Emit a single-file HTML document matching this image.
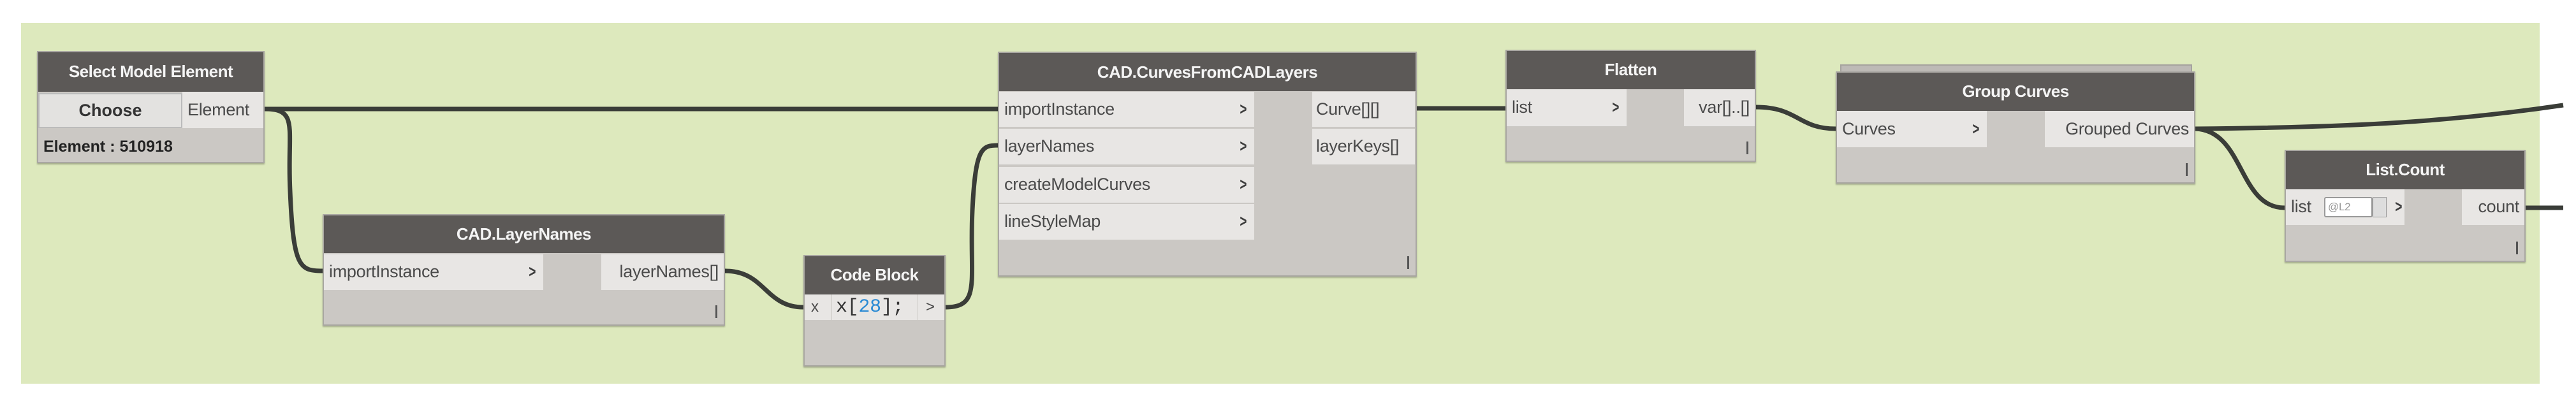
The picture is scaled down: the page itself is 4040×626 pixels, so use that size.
<!DOCTYPE html>
<html><head><meta charset="utf-8"><style>
*{margin:0;padding:0;box-sizing:border-box}
body{width:4040px;height:626px;background:#fff;position:relative;overflow:hidden;font-family:"Liberation Sans",sans-serif}
.bg{position:absolute;left:33px;top:36px;width:3950px;height:566px;background:#dde9bd}
.n{position:absolute;background:#cbc8c4;border:2px solid #a9a7a2;box-shadow:0 2px 2px rgba(0,0,0,.25)}
.h{position:absolute;left:0;right:0;top:0;background:#5c5957;color:#f4f4f4;font-weight:bold;font-size:26px;text-align:center;letter-spacing:-0.5px}
.p{position:absolute;background:#e8e6e4;color:#4a4a4a;font-size:27px;padding-left:8px;white-space:nowrap;letter-spacing:-0.3px}
.p.r{text-align:right;padding-left:0;padding-right:8px}
.ch{position:absolute;right:10px;font-weight:bold;color:#3d3d3d;transform:scaleX(.7)}
.bar{position:absolute;right:10px;bottom:10px;width:3px;height:20px;background:#555}
svg{position:absolute;left:0;top:0}
</style></head><body>
<div class="bg"></div>
<svg width="4040" height="626">
<g fill="none" stroke="#3a3d38" stroke-width="7">
<path d="M415 171 L1566 171"/>
<path d="M415 171 C470 171,450 200,455 300 C460 420,470 425,506 425"/>
<path d="M1137 425 C1200 425,1200 482,1260 482"/>
<path d="M1483 482 C1540 482,1520 440,1525 330 C1530 230,1540 228,1566 228"/>
<path d="M2222 170 L2361 170"/>
<path d="M2754 168 C2820 168,2820 202,2879 202"/>
<path d="M3443 202 C3700 200,3850 190,4020 165"/>
<path d="M3443 202 C3520 205,3510 326,3583 326"/>
<path d="M3961 326 L4020 326"/>
</g></svg>

<!-- Select Model Element -->
<div class="n" style="left:58px;top:80px;width:357px;height:176px">
<div class="h" style="height:62px;line-height:60px">Select Model Element</div>
<div style="position:absolute;left:0;top:64px;width:226px;height:55px;background:#e3e2e0;border:2px solid #bbb;font-size:27px;text-align:center;line-height:50px;color:#333;font-weight:bold">Choose</div>
<div class="p" style="left:226px;top:62px;width:127px;height:57px;line-height:56px">Element</div>
<div style="position:absolute;left:8px;top:128px;font-size:25px;color:#222;font-weight:bold;line-height:40px">Element : 510918</div>
</div>

<!-- CAD.LayerNames -->
<div class="n" style="left:506px;top:336px;width:631px;height:175px">
<div class="h" style="height:59px;line-height:58px">CAD.LayerNames</div>
<div class="p" style="left:0;top:61px;width:344px;height:56px;line-height:55px">importInstance<span class="ch">&gt;</span></div>
<div class="p r" style="left:435px;top:61px;width:192px;height:56px;line-height:55px">layerNames[]</div>
<div class="bar"></div>
</div>

<!-- Code Block -->
<div class="n" style="left:1260px;top:400px;width:223px;height:175px">
<div class="h" style="height:60px;line-height:58px">Code Block</div>
<div class="p" style="left:0;top:60px;width:42px;height:40px;line-height:40px;font-size:24px;padding-left:10px">x</div>
<div class="p" style="left:43px;top:60px;width:134px;height:40px;line-height:40px;font-family:'Liberation Mono',monospace;font-size:30px;color:#333;padding-left:6px">x[<span style="color:#2a8ad4">28</span>];</div>
<div class="p" style="left:178px;top:60px;width:41px;height:40px;line-height:40px;font-size:24px;padding-left:12px">&gt;</div>
</div>

<!-- CAD.CurvesFromCADLayers -->
<div class="n" style="left:1565px;top:81px;width:657px;height:353px">
<div class="h" style="height:60px;line-height:60px">CAD.CurvesFromCADLayers</div>
<div class="p" style="left:0;top:61px;width:400px;height:55px;line-height:54px">importInstance<span class="ch">&gt;</span></div>
<div class="p" style="left:0;top:119px;width:400px;height:56px;line-height:55px">layerNames<span class="ch">&gt;</span></div>
<div class="p" style="left:0;top:179px;width:400px;height:56px;line-height:55px">createModelCurves<span class="ch">&gt;</span></div>
<div class="p" style="left:0;top:237px;width:400px;height:56px;line-height:55px">lineStyleMap<span class="ch">&gt;</span></div>
<div class="p" style="left:491px;top:61px;width:161px;height:55px;line-height:54px;padding-left:6px">Curve[][]</div>
<div class="p" style="left:491px;top:119px;width:161px;height:56px;line-height:55px;padding-left:6px">layerKeys[]</div>
<div class="bar"></div>
</div>

<!-- Flatten -->
<div class="n" style="left:2361px;top:78px;width:393px;height:176px">
<div class="h" style="height:60px;line-height:58px">Flatten</div>
<div class="p" style="left:0;top:60px;width:188px;height:58px;line-height:57px">list<span class="ch">&gt;</span></div>
<div class="p r" style="left:278px;top:60px;width:111px;height:58px;line-height:57px">var[]..[]</div>
<div class="bar"></div>
</div>

<!-- Group Curves -->
<div style="position:absolute;left:2886px;top:101px;width:552px;height:14px;background:#bdbab6;border:2px solid #a5a39e;border-bottom:none"></div>
<div class="n" style="left:2879px;top:112px;width:564px;height:176px">
<div class="h" style="height:60px;line-height:58px">Group Curves</div>
<div class="p" style="left:0;top:60px;width:235px;height:57px;line-height:56px">Curves<span class="ch">&gt;</span></div>
<div class="p r" style="left:326px;top:60px;width:234px;height:57px;line-height:56px">Grouped Curves</div>
<div class="bar"></div>
</div>

<!-- List.Count -->
<div class="n" style="left:3583px;top:235px;width:378px;height:176px">
<div class="h" style="height:60px;line-height:58px">List.Count</div>
<div class="p" style="left:0;top:60px;width:186px;height:56px;line-height:55px">list
<span style="position:absolute;left:60px;top:12px;width:76px;height:32px;background:#fff;border:2px solid #999;border-radius:3px;font-size:17px;line-height:28px;color:#999;padding-left:4px">@L2</span>
<span style="position:absolute;left:136px;top:12px;width:22px;height:32px;background:#ddd;border:1px solid #999"></span>
<span class="ch" style="right:2px">&gt;</span></div>
<div class="p r" style="left:276px;top:60px;width:98px;height:56px;line-height:55px">count</div>
<div class="bar"></div>
</div>
</body></html>
